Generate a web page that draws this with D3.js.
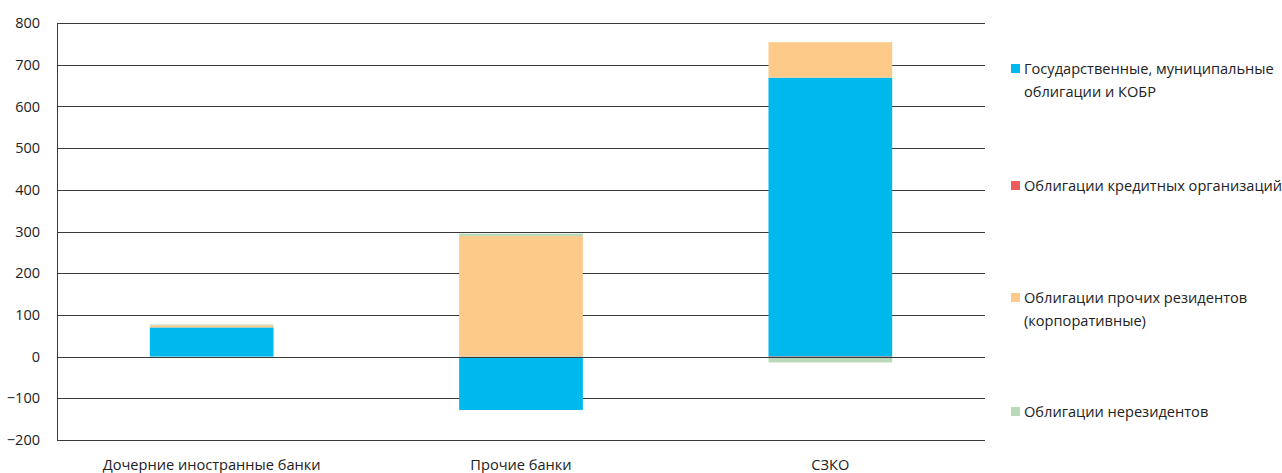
<!DOCTYPE html>
<html>
<head>
<meta charset="utf-8">
<style>
body { margin: 0; background: #fff; }
svg { font-family: "Open Sans", "Noto Sans", sans-serif; }
</style>
</head>
<body>
<svg width="1282" height="473"></svg>
<script src="https://d3js.org/d3.v7.min.js"></script>
<script>

var categories = ["Дочерние иностранные банки", "Прочие банки", "СЗКО"];
var seriesNames = [
  ["Государственные, муниципальные", "облигации и КОБР"],
  ["Облигации кредитных организаций"],
  ["Облигации прочих резидентов", "(корпоративные)"],
  ["Облигации нерезидентов"]
];
var govBonds    = [70, -128, 669];
var creditBonds = [0, 0, -3];
var corpBonds   = [5, 289, 85];
var nonresBonds = [2, 6, -11];
var yTicks = [-200, -100, 0, 100, 200, 300, 400, 500, 600, 700, 800];
var colors = ["#00b9ec", "#f15a5a", "#fdca89", "#b9d9b9"];

var svg = d3.select("svg");
var margin = {left: 57, right: 297, top: 23, bottom: 33};
var width = 1282 - margin.left - margin.right,
    height = 473 - margin.top - margin.bottom;

var keys = ["gov", "cred", "corp", "nonres"];
var table = categories.map(function(c, i) {
  return {cat: c, gov: govBonds[i], cred: creditBonds[i], corp: corpBonds[i], nonres: nonresBonds[i]};
});

var stack = d3.stack().keys(keys).offset(d3.stackOffsetDiverging);
var layers = stack(table);

var x = d3.scaleBand().domain(categories).range([0, width]).paddingInner(0.6).paddingOuter(0.3);
var y = d3.scaleLinear().domain([-200, 800]).range([height, 0]);

var g = svg.append("g").attr("transform", "translate(" + margin.left + "," + margin.top + ")");

// gridlines
g.selectAll("line.grid")
  .data(yTicks)
  .enter().append("line")
    .attr("class", "grid")
    .attr("x1", 0).attr("x2", width)
    .attr("y1", function(d) { return Math.round(y(d)) + 0.5; })
    .attr("y2", function(d) { return Math.round(y(d)) + 0.5; })
    .attr("stroke", "#3a3a3a")
    .attr("stroke-width", 1);

// bars
g.selectAll("g.layer")
  .data(layers)
  .enter().append("g")
    .attr("class", "layer")
    .attr("fill", function(d, i) { return colors[i]; })
  .selectAll("rect")
    .data(function(d) { return d; })
  .enter().append("rect")
    .attr("x", function(d) { return x(d.data.cat); })
    .attr("width", x.bandwidth())
    .attr("y", function(d) { return y(Math.max(d[0], d[1])); })
    .attr("height", function(d) { return Math.abs(y(d[0]) - y(d[1])); });

// zero line over the bars
g.append("line")
  .attr("x1", 0).attr("x2", width)
  .attr("y1", Math.round(y(0)) + 0.5).attr("y2", Math.round(y(0)) + 0.5)
  .attr("stroke", "#3a3a3a");

// y axis
var yAxis = g.append("g")
  .call(d3.axisLeft(y).tickValues(yTicks).tickSize(0).tickPadding(17).tickFormat(d3.format("d")));
yAxis.select(".domain").attr("stroke", "#3a3a3a");
yAxis.selectAll("text")
  .attr("font-size", "14.5px")
  .attr("fill", "#222")
  .attr("font-family", "Open Sans, sans-serif");

// x labels
g.selectAll("text.xlab")
  .data(categories)
  .enter().append("text")
    .attr("class", "xlab")
    .attr("x", function(d) { return x(d) + x.bandwidth() / 2; })
    .attr("y", height + 30)
    .attr("text-anchor", "middle")
    .attr("font-size", "14.6px")
    .attr("fill", "#222")
    .text(function(d) { return d; });

// legend
var legendY = [64, 181, 293, 407];
var legend = svg.selectAll("g.legend")
  .data(seriesNames)
  .enter().append("g")
    .attr("class", "legend")
    .attr("transform", function(d, i) { return "translate(1011," + legendY[i] + ")"; });

legend.append("rect")
  .attr("width", 9).attr("height", 9)
  .attr("fill", function(d, i) { return colors[i]; });

legend.append("text")
  .attr("font-size", "14.6px")
  .attr("fill", "#222")
  .selectAll("tspan")
    .data(function(d) { return d; })
  .enter().append("tspan")
    .attr("x", 13)
    .attr("y", function(d, i) { return 10 + i * 23; })
    .text(function(d) { return d; });

</script>
</body>
</html>
